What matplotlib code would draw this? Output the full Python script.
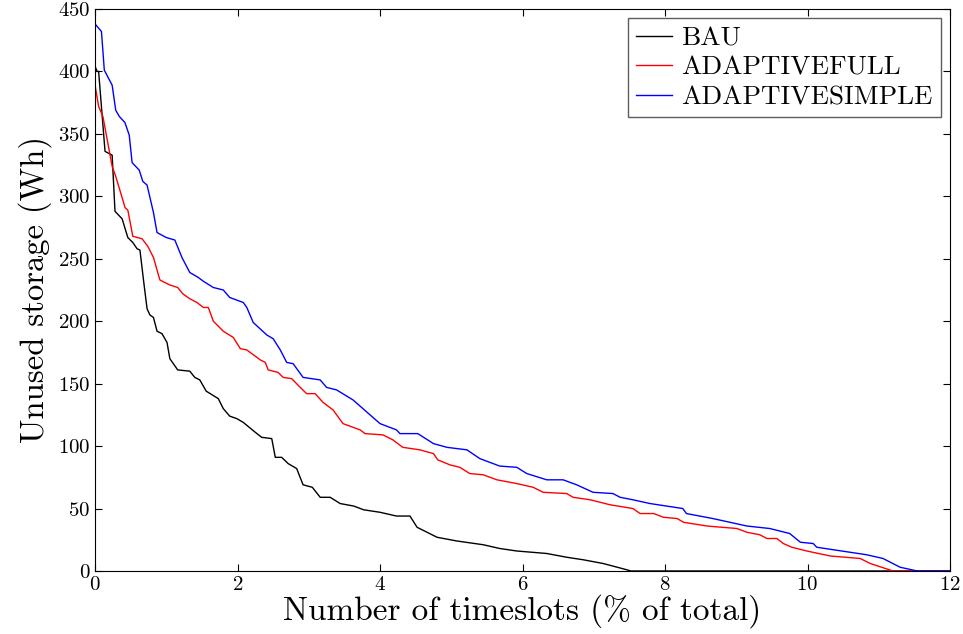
import numpy as np
import matplotlib.pyplot as plt

plt.rcParams['font.family'] = 'cmr10'
plt.rcParams['mathtext.fontset'] = 'cm'
plt.rcParams['axes.formatter.use_mathtext'] = True

# data
bau_x = [0, 0.03, 0.05, 0.14, 0.24, 0.28, 0.38, 0.46, 0.53, 0.59, 0.63, 0.68, 0.73, 0.77, 0.82,
         0.87, 0.94, 1.01, 1.05, 1.16, 1.33, 1.40, 1.47, 1.56, 1.73, 1.80, 1.89, 1.99, 2.08, 2.25,
         2.34, 2.48, 2.53, 2.62, 2.71, 2.83, 2.92, 3.05, 3.16, 3.30, 3.44, 3.63, 3.77, 4.00, 4.23,
         4.42, 4.52, 4.66, 4.80, 5.08, 5.45, 5.68, 5.92, 6.34, 6.62, 6.85, 7.13, 7.33, 7.46, 7.52, 12]
bau_y = [404, 400, 400, 336, 333, 288, 282, 267, 263, 258, 257, 233, 210, 205, 203,
         192, 190, 183, 170, 161, 160, 155, 153, 144, 138, 130, 124, 122, 119, 111,
         107, 106, 91, 91, 86, 82, 69, 67, 59, 59, 54, 52, 49, 47, 44,
         44, 35, 31, 27, 24, 21, 18, 16, 14, 11, 9, 6, 3, 1, 0, 0]

full_x = [0, 0.05, 0.11, 0.24, 0.29, 0.39, 0.42, 0.46, 0.53, 0.66, 0.74, 0.82, 0.91, 1.05, 1.16,
          1.23, 1.33, 1.43, 1.52, 1.59, 1.66, 1.80, 1.94, 2.04, 2.13, 2.32, 2.39, 2.43, 2.57, 2.64,
          2.76, 2.88, 2.97, 3.09, 3.20, 3.34, 3.48, 3.72, 3.79, 4.04, 4.18, 4.32, 4.56, 4.75, 4.81,
          4.98, 5.12, 5.26, 5.45, 5.64, 5.92, 6.15, 6.29, 6.62, 6.71, 6.95, 7.23, 7.55, 7.65, 7.84,
          7.98, 8.17, 8.26, 8.59, 9.01, 9.15, 9.33, 9.43, 9.57, 9.66, 9.78, 9.99, 10.32, 10.74, 10.88,
          11.20, 12]
full_y = [389, 372, 364, 324, 316, 297, 291, 289, 268, 266, 260, 251, 233, 229, 227,
          222, 218, 215, 211, 211, 200, 192, 187, 178, 177, 169, 167, 161, 159, 155,
          154, 147, 142, 142, 135, 129, 118, 113, 110, 109, 105, 99, 97, 94, 89,
          85, 83, 78, 77, 73, 70, 67, 63, 62, 59, 57, 53, 50, 46, 46,
          43, 42, 39, 36, 34, 31, 29, 26, 26, 22, 19, 16, 12, 10, 6,
          0, 0]

simple_x = [0, 0.09, 0.13, 0.24, 0.29, 0.34, 0.42, 0.48, 0.52, 0.62, 0.67, 0.73, 0.82, 0.87, 1.00,
            1.12, 1.22, 1.33, 1.45, 1.52, 1.66, 1.80, 1.89, 2.08, 2.13, 2.22, 2.41, 2.50, 2.60, 2.69,
            2.78, 2.92, 3.16, 3.25, 3.39, 3.62, 3.86, 4.00, 4.23, 4.28, 4.53, 4.75, 4.94, 5.22, 5.40,
            5.68, 5.92, 6.06, 6.34, 6.57, 6.76, 6.99, 7.27, 7.37, 7.55, 7.79, 8.25, 8.30, 8.67, 9.15,
            9.47, 9.75, 9.90, 10.08, 10.13, 10.83, 11.06, 11.30, 11.54, 12]
simple_y = [438, 432, 401, 389, 369, 364, 359, 349, 327, 321, 312, 309, 287, 271, 267,
            265, 251, 239, 235, 232, 227, 225, 219, 215, 211, 199, 189, 186, 177, 167,
            166, 155, 153, 147, 145, 137, 125, 118, 113, 110, 110, 102, 99, 97, 90,
            84, 83, 78, 73, 73, 69, 63, 62, 59, 57, 54, 50, 46, 42, 36,
            34, 30, 23, 22, 19, 13, 10, 3, 0, 0]

fig = plt.figure(figsize=(9.63, 6.34), dpi=100)
ax = fig.add_axes([0.0987, 0.0994, 0.8878, 0.8864])

ax.plot(bau_x, bau_y, color='black', lw=1, label='BAU')
ax.plot(full_x, full_y, color='red', lw=1, label='ADAPTIVEFULL')
ax.plot(simple_x, simple_y, color='blue', lw=1, label='ADAPTIVESIMPLE')

ax.set_xlim(0, 12)
ax.set_ylim(0, 450)
ax.set_xticks(np.arange(0, 13, 2))
ax.set_yticks(np.arange(0, 451, 50))
ax.tick_params(direction='in', top=True, right=True, labelsize=15, length=5)
ax.set_xlabel('Number of timeslots (% of total)', fontsize=24, labelpad=0)
ax.set_ylabel('Unused storage (Wh)', fontsize=23.5, labelpad=4)

leg = ax.legend(loc='upper right', fontsize=19.5, fancybox=False, handlelength=1.3,
                handletextpad=0.35, borderaxespad=0.35, labelspacing=0.2, borderpad=0.3)
leg.get_frame().set_edgecolor('#333333')

plt.savefig('out.png', dpi=100)
